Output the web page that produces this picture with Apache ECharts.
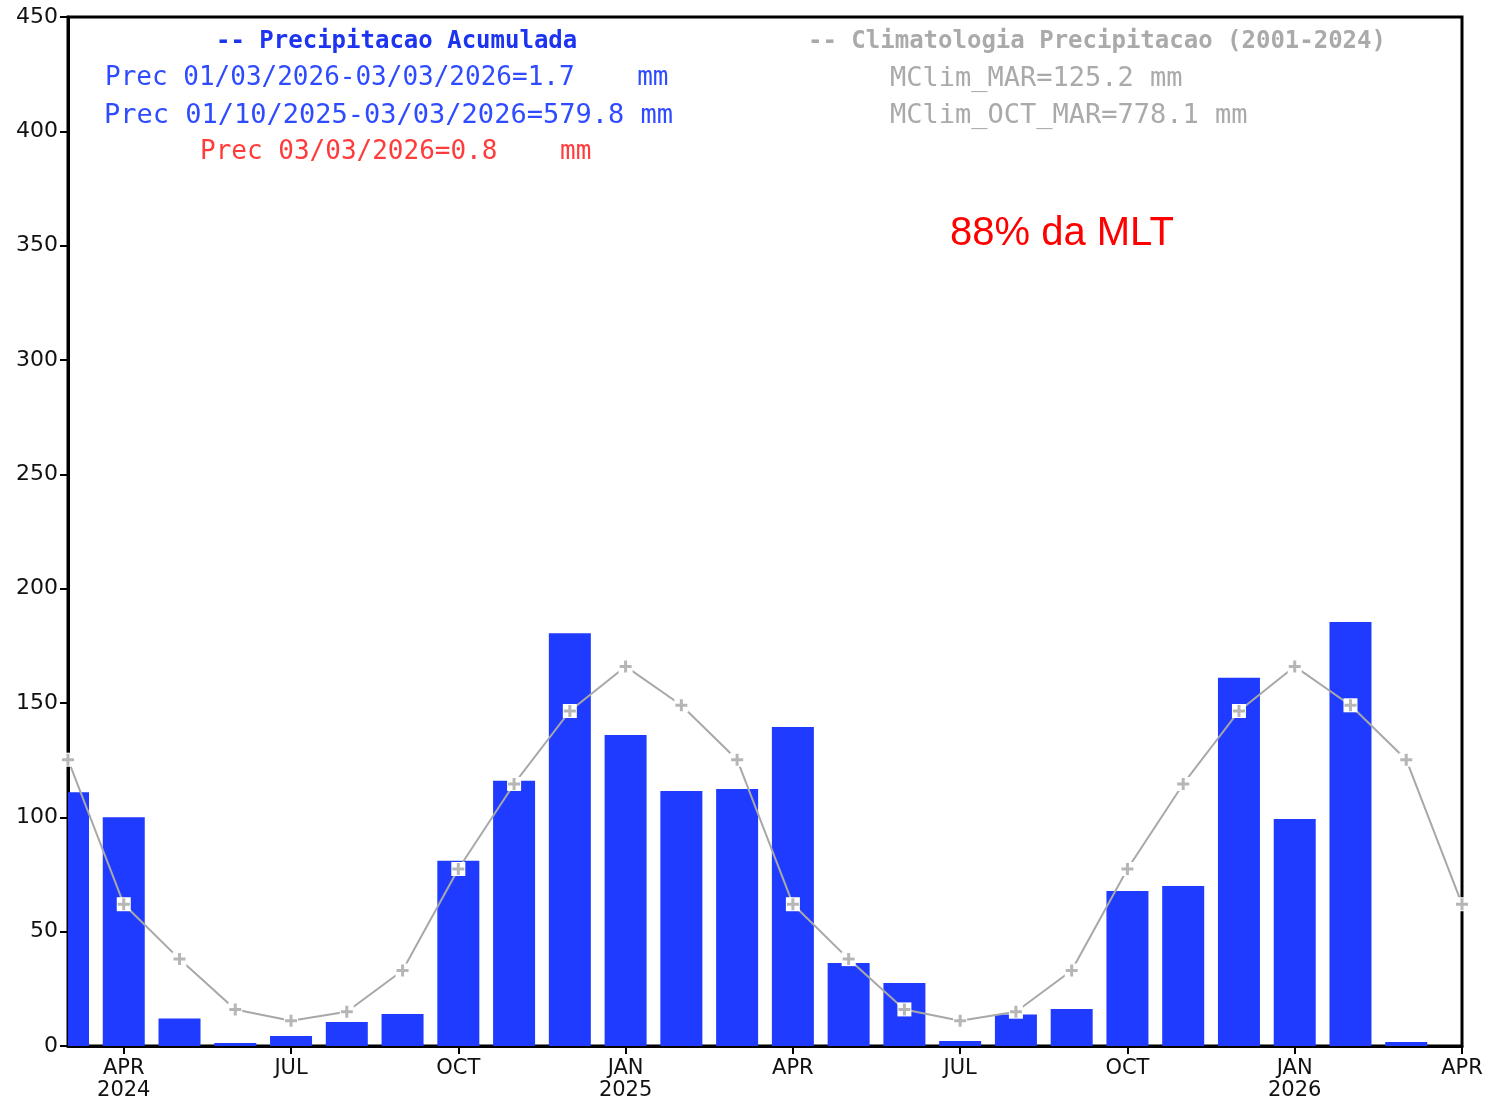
<!DOCTYPE html>
<html>
<head>
<meta charset="utf-8">
<script src="https://cdn.jsdelivr.net/npm/echarts@6/dist/echarts.min.js"></script>
<style>
  html, body { margin: 0; padding: 0; background: #fff; }
  #chart { width: 1498px; height: 1100px; }
</style>
</head>
<body>
<div id="chart"></div>
<script>
// months from MAR 2024 (index 0) to APR 2026 (index 25)
const months = ['MAR', 'APR\n2024', 'MAY', 'JUN', 'JUL', 'AUG', 'SEP', 'OCT', 'NOV', 'DEC',
  'JAN\n2025', 'FEB', 'MAR', 'APR', 'MAY', 'JUN', 'JUL', 'AUG', 'SEP', 'OCT', 'NOV', 'DEC',
  'JAN\n2026', 'FEB', 'MAR', 'APR']

// months that carry a tick and a label
const tickMonths = [1, 4, 7, 10, 13, 16, 19, 22, 25]

// precipitacao acumulada (mm)
const precip = [111, 100, 12, 1.3, 4.4, 10.5, 14, 81, 116, 180.5,
  136, 111.5, 112.4, 139.5, 36.3, 27.5, 2.2, 13.8, 16.2, 67.8, 70, 161,
  99.3, 185.4, 1.7, null]

// climatologia 2001-2024 (mm)
const clim = [125.2, 62, 38, 16, 11, 15, 33, 77.4, 114.6, 146.5,
  166, 149, 125.2, 62, 38, 16, 11, 15, 33, 77.4, 114.6, 146.5,
  166, 149, 125.2, 62]

const yTicks = [0, 50, 100, 150, 200, 250, 300, 350, 400, 450]

const blueTxt = '#2f4bff'
const greyTxt = '#aaaaaa'
const mono = '"DejaVu Sans Mono", monospace'
const plusPath = 'path://M4.5,0H7.5V4.5H12V7.5H7.5V12H4.5V7.5H0V4.5H4.5Z'
const barW = 42

const precipData = precip.map((v, i) => [i, v == null ? '-' : v])
const climData = clim.map((v, i) => [i, v])

const myChart = echarts.init(document.getElementById('chart'))

// bars drawn through a custom series so the half bar at the edge gets clipped to the grid
function renderBar(params, api) {
  const val = api.value(1)
  if (isNaN(val)) return
  const top = api.coord([api.value(0), val])
  const base = api.coord([api.value(0), 0])
  const cs = params.coordSys
  const shape = echarts.graphic.clipRectByRect(
    { x: top[0] - barW / 2, y: top[1], width: barW, height: base[1] - top[1] },
    { x: cs.x, y: cs.y, width: cs.width, height: cs.height }
  )
  if (!shape) return
  return { type: 'rect', shape: shape, style: { fill: '#1f3bff' } }
}

let option = {
  animation: false,
  backgroundColor: '#fff',
  grid: {
    left: 68,
    right: 36,
    top: 17,
    bottom: 54,
    outerBoundsMode: 'none',
    containLabel: false,
    show: true,
    borderColor: '#000',
    borderWidth: 3
  },
  xAxis: {
    type: 'value',
    min: 0,
    max: months.length - 1,
    axisLine: { onZero: false, lineStyle: { color: '#000', width: 3 } },
    axisTick: {
      customValues: tickMonths,
      length: 8,
      lineStyle: { color: '#000', width: 2 }
    },
    axisLabel: {
      customValues: tickMonths,
      formatter: (v) => months[Math.round(v)],
      color: '#111',
      fontFamily: 'DejaVu Sans',
      fontSize: 21,
      lineHeight: 22,
      margin: 12
    },
    splitLine: { show: false }
  },
  yAxis: {
    type: 'value',
    min: yTicks[0],
    max: yTicks[yTicks.length - 1],
    interval: 50,
    axisLine: { show: true, onZero: false, lineStyle: { color: '#000', width: 3 } },
    axisTick: { show: true, length: 8, lineStyle: { color: '#000', width: 2 } },
    axisLabel: {
      color: '#111',
      fontFamily: 'DejaVu Sans',
      fontSize: 22,
      margin: 10
    },
    splitLine: { show: false }
  },
  series: [
    {
      type: 'custom',
      data: precipData,
      renderItem: renderBar,
      encode: { x: 0, y: 1 },
      z: 2
    },
    {
      type: 'line',
      data: climData,
      clip: true,
      symbol: 'rect',
      symbolSize: 14,
      showAllSymbol: true,
      lineStyle: { color: '#a8a8a8', width: 2 },
      itemStyle: { color: '#fff', borderWidth: 0 },
      z: 3
    },
    {
      type: 'scatter',
      data: climData,
      clip: true,
      symbol: plusPath,
      symbolSize: 12,
      itemStyle: { color: '#a4a4a4' },
      z: 4
    }
  ],
  graphic: [
    { type: 'text', left: 216, top: 30, style: { text: '-- Precipitacao Acumulada', fill: '#1c33f0', font: 'bold 24px ' + mono } },
    { type: 'text', left: 105, top: 65, style: { text: 'Prec 01/03/2026-03/03/2026=1.7    mm', fill: blueTxt, font: '26px ' + mono } },
    { type: 'text', left: 104, top: 102, style: { text: 'Prec 01/10/2025-03/03/2026=579.8 mm', fill: blueTxt, font: '27px ' + mono } },
    { type: 'text', left: 200, top: 139, style: { text: 'Prec 03/03/2026=0.8    mm', fill: '#ff3b3b', font: '26px ' + mono } },
    { type: 'text', left: 808, top: 30, style: { text: '-- Climatologia Precipitacao (2001-2024)', fill: greyTxt, font: 'bold 24px ' + mono } },
    { type: 'text', left: 890, top: 65, style: { text: 'MClim_MAR=125.2 mm', fill: greyTxt, font: '27px ' + mono } },
    { type: 'text', left: 890, top: 102, style: { text: 'MClim_OCT_MAR=778.1 mm', fill: greyTxt, font: '27px ' + mono } },
    { type: 'text', left: 950, top: 214, style: { text: '88% da MLT', fill: '#ff0000', font: '40px "Liberation Sans", Arial, sans-serif' } }
  ]
}

myChart.setOption(option)
window.onresize = myChart.resize
</script>
</body>
</html>
